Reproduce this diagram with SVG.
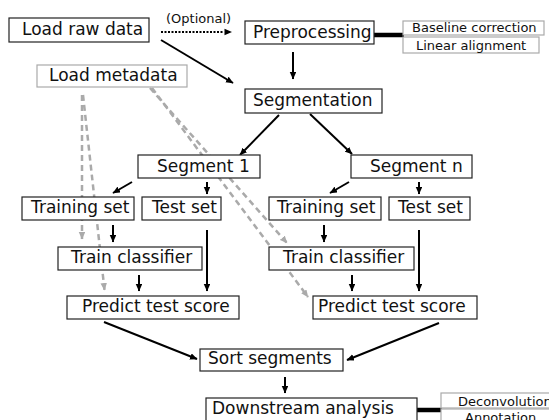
<svg xmlns="http://www.w3.org/2000/svg" width="549" height="420" viewBox="0 0 549 420">
<defs>
<marker id="ab" markerUnits="userSpaceOnUse" markerWidth="8" markerHeight="7" refX="7" refY="3.25" orient="auto">
<path d="M0,0 L7.5,3.25 L0,6.5 z" fill="#000"/>
</marker>
<marker id="ag" markerUnits="userSpaceOnUse" markerWidth="8" markerHeight="7" refX="7" refY="3.25" orient="auto">
<path d="M0,0 L7.5,3.25 L0,6.5 z" fill="#aaa"/>
</marker>
</defs>
<style>
.box{fill:#fff;stroke:#222;stroke-width:1.2}
.gbox{fill:#fff;stroke:#aaa;stroke-width:1.2}
.t{font-family:"DejaVu Sans","Liberation Sans",sans-serif;font-size:17px;fill:#111}
.s{font-family:"DejaVu Sans","Liberation Sans",sans-serif;font-size:13px;fill:#111}
.c{fill:none;stroke:#000;stroke-width:2;marker-end:url(#ab)}
.g{fill:none;stroke:#aaa;stroke-width:2.5;stroke-dasharray:6,4;marker-end:url(#ag)}
.thick{fill:none;stroke:#000;stroke-width:4.5}
</style>
<rect width="549" height="420" fill="#fff"/>
<g id="connectors">
<line class="g" x1="82" y1="95" x2="82" y2="239"/>
<line class="g" x1="83" y1="95" x2="104.5" y2="290"/>
<line class="g" x1="150" y1="88" x2="287" y2="243"/>
<line class="g" x1="152" y1="88" x2="308" y2="297"/>
<line x1="161" y1="32" x2="224" y2="32" stroke="#000" stroke-width="2" stroke-dasharray="2,1.5"/>
<path d="M224.5,28.8 L232,32 L224.5,35.2 z" fill="#000"/>
<line class="c" x1="161" y1="40" x2="233" y2="83"/>
<line class="c" x1="293" y1="52" x2="293" y2="79"/>
<line class="c" x1="279" y1="115" x2="240" y2="155"/>
<line class="c" x1="310" y1="114" x2="352" y2="154"/>
<line class="c" x1="132" y1="182" x2="113" y2="193"/>
<line class="c" x1="207" y1="182" x2="207" y2="194"/>
<line class="c" x1="349" y1="182" x2="330" y2="193"/>
<line class="c" x1="419" y1="182" x2="419" y2="194"/>
<line class="c" x1="113" y1="225" x2="113" y2="242"/>
<line class="c" x1="324" y1="225" x2="324" y2="242"/>
<line class="c" x1="207" y1="230" x2="207" y2="291"/>
<line class="c" x1="419" y1="230" x2="419" y2="291"/>
<line class="c" x1="139" y1="275" x2="139" y2="291"/>
<line class="c" x1="352" y1="275" x2="352" y2="291"/>
<line class="c" x1="104" y1="322" x2="197" y2="359"/>
<line class="c" x1="439" y1="323" x2="347" y2="360"/>
<line class="c" x1="285" y1="377" x2="285" y2="393"/>
<line class="thick" x1="374" y1="35" x2="404" y2="35"/>
<line class="thick" x1="417" y1="410" x2="442" y2="410"/>
</g>
<g id="load-raw-data"><rect class="box" x="9" y="18" width="140" height="24"/><text class="t" x="22" y="35">Load raw data</text></g>
<g id="optional-label"><text class="s" x="166" y="23">(Optional)</text></g>
<g id="preprocessing"><rect class="box" x="245" y="21" width="129" height="23"/><text class="t" x="253" y="38">Preprocessing</text></g>
<g id="baseline-correction"><rect class="gbox" x="403" y="21" width="141" height="14"/><text class="s" x="412" y="32">Baseline correction</text></g>
<g id="linear-alignment"><rect class="gbox" x="403" y="37" width="136" height="16"/><text class="s" x="416" y="50">Linear alignment</text></g>
<g id="load-metadata"><rect class="gbox" x="37" y="65" width="150" height="22"/><text class="t" x="49" y="81">Load metadata</text></g>
<g id="segmentation"><rect class="box" x="245" y="89" width="137" height="24"/><text class="t" x="253" y="106">Segmentation</text></g>
<g id="segment-1"><rect class="box" x="138" y="155" width="122" height="23"/><text class="t" x="157" y="172">Segment 1</text></g>
<g id="segment-n"><rect class="box" x="351" y="155" width="121" height="23"/><text class="t" x="370" y="172">Segment n</text></g>
<g id="training-set-1"><rect class="box" x="22" y="197" width="112" height="23"/><text class="t" x="31" y="213">Training set</text></g>
<g id="test-set-1"><rect class="box" x="142" y="197" width="79" height="23"/><text class="t" x="152" y="213">Test set</text></g>
<g id="training-set-n"><rect class="box" x="269" y="197" width="112" height="23"/><text class="t" x="277" y="213">Training set</text></g>
<g id="test-set-n"><rect class="box" x="389" y="197" width="81" height="23"/><text class="t" x="398" y="213">Test set</text></g>
<g id="train-classifier-1"><rect class="box" x="58" y="247" width="144" height="23"/><text class="t" x="71" y="263">Train classifier</text></g>
<g id="train-classifier-n"><rect class="box" x="269" y="247" width="145" height="23"/><text class="t" x="283" y="263">Train classifier</text></g>
<g id="predict-test-score-1"><rect class="box" x="67" y="296" width="172" height="23"/><text class="t" x="82" y="312">Predict test score</text></g>
<g id="predict-test-score-n"><rect class="box" x="313" y="296" width="164" height="23"/><text class="t" x="318" y="312">Predict test score</text></g>
<g id="sort-segments"><rect class="box" x="200" y="349" width="143" height="22"/><text class="t" x="208" y="364">Sort segments</text></g>
<g id="downstream-analysis"><rect class="box" x="206" y="398" width="211" height="26"/><text class="t" x="212" y="414">Downstream analysis</text></g>
<g id="deconvolution"><rect class="gbox" x="441" y="393" width="120" height="15"/><text class="s" x="458" y="406">Deconvolution</text></g>
<g id="annotation"><rect class="gbox" x="441" y="409" width="120" height="16"/><text class="s" x="465" y="422">Annotation</text></g>
</svg>
